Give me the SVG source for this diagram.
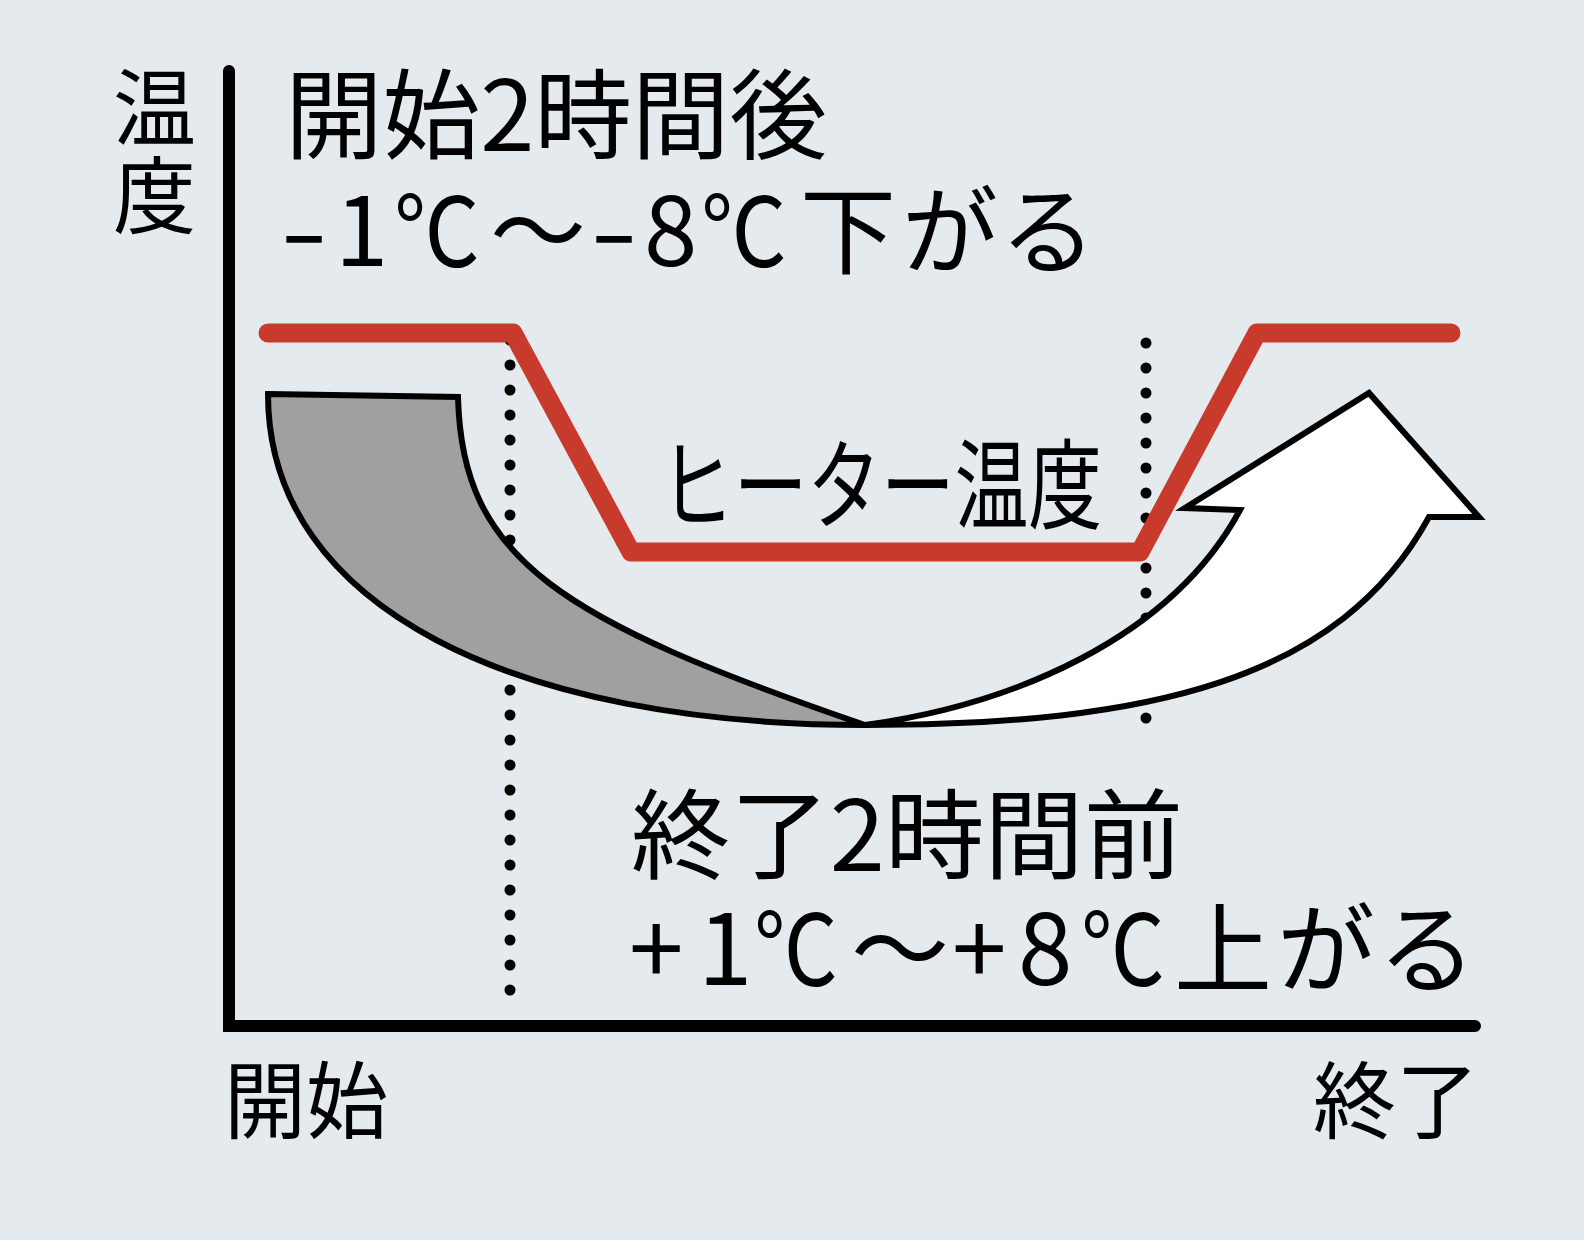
<svg xmlns="http://www.w3.org/2000/svg" width="1584" height="1240" viewBox="0 0 1584 1240">
<style>
.t{font-family:"Noto Sans CJK JP","Noto Sans",sans-serif;fill:#000;font-weight:400}
.dot{stroke:#000;stroke-width:11;stroke-linecap:round;stroke-dasharray:0 25;fill:none}
.axis{stroke:#000;stroke-width:12;stroke-linecap:round;fill:none}
.shape{stroke:#000;stroke-width:6;stroke-linejoin:miter}
</style>
<rect width="1584" height="1240" fill="#e4eaed"/>
<g id="connectors">
<line class="dot" x1="510" y1="340" x2="510" y2="1015"/>
<line class="dot" x1="1146" y1="343" x2="1146" y2="743"/>
<path class="axis" d="M229,71 V1026 H1475"/>
</g>
<g id="heater-line">
<polyline points="268,333 513,333 631,552 1140,552 1257,333 1451,333" fill="none" stroke="#c83a2c" stroke-width="19" stroke-linecap="round" stroke-linejoin="round"/>
</g>
<g id="gray-fall">
<path class="shape" fill="#9fa09f" d="M268,394 L458,397 C462,560 560,620 865,725 C520,725 268,610 268,394 Z"/>
</g>
<g id="white-arrow">
<path class="shape" fill="#ffffff" d="M865,725 C1010,705 1170,640 1240,510 L1185,508 L1369,393 L1479,517 L1429,517 C1340,680 1150,725 865,725 Z"/>
</g>
<g id="label-y">
<text class="t" x="113" y="139" font-size="84" textLength="83" lengthAdjust="spacingAndGlyphs">温</text>
<text class="t" x="113" y="227" font-size="84" textLength="83" lengthAdjust="spacingAndGlyphs">度</text>
</g>
<g id="label-start-after">
<text class="t" x="285" y="151" font-size="98" textLength="542" lengthAdjust="spacingAndGlyphs">開始2時間後</text>
<text class="t" y="266" font-size="96"><tspan x="280" textLength="48" lengthAdjust="spacingAndGlyphs">-</tspan><tspan x="335">1</tspan><tspan x="394" textLength="86" lengthAdjust="spacingAndGlyphs">℃</tspan><tspan x="490">～</tspan><tspan x="590" textLength="48" lengthAdjust="spacingAndGlyphs">-</tspan><tspan x="644">8</tspan><tspan x="701" textLength="86" lengthAdjust="spacingAndGlyphs">℃</tspan><tspan x="800">下</tspan><tspan x="902">が</tspan><tspan x="1000">る</tspan></text>
</g>
<g id="label-heater">
<text class="t" x="660" y="521" font-size="98" textLength="442" lengthAdjust="spacingAndGlyphs">ヒーター温度</text>
</g>
<g id="label-end-before">
<text class="t" x="631" y="871" font-size="98" textLength="552" lengthAdjust="spacingAndGlyphs">終了2時間前</text>
<text class="t" y="985" font-size="98"><tspan x="629">+</tspan><tspan x="698">1</tspan><tspan x="754" textLength="84" lengthAdjust="spacingAndGlyphs">℃</tspan><tspan x="851">～</tspan><tspan x="952">+</tspan><tspan x="1018">8</tspan><tspan x="1081" textLength="84" lengthAdjust="spacingAndGlyphs">℃</tspan><tspan x="1174">上</tspan><tspan x="1277">が</tspan><tspan x="1378">る</tspan></text>
</g>
<g id="label-x-start">
<text class="t" x="224" y="1132" font-size="84" textLength="164" lengthAdjust="spacingAndGlyphs">開始</text>
</g>
<g id="label-x-end">
<text class="t" x="1313" y="1132" font-size="84" textLength="166" lengthAdjust="spacingAndGlyphs">終了</text>
</g>
</svg>
